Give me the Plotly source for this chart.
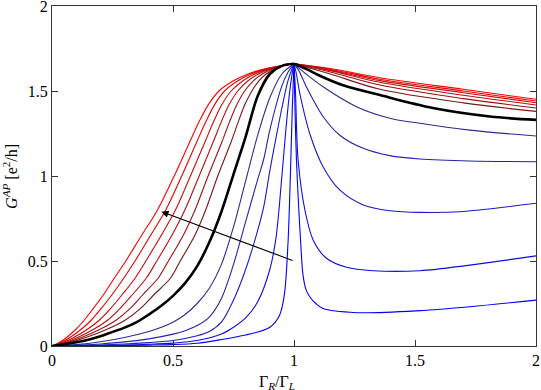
import plotly.graph_objects as go

# ---- black (reference) curve ----
black_left_x = [0, 0.05, 0.1, 0.15, 0.2, 0.25, 0.3, 0.35, 0.4, 0.45, 0.5, 0.55, 0.6, 0.65, 0.7,
                0.75, 0.8, 0.85, 0.9, 0.95, 1.0]
black_left_g = [0, 0.01, 0.022, 0.037, 0.057, 0.083, 0.108, 0.14, 0.185, 0.235, 0.295, 0.37, 0.47,
                0.61, 0.79, 1.01, 1.23, 1.47, 1.60, 1.648, 1.66]
black_right_x = [1.0, 1.05, 1.1, 1.2, 1.355, 1.574, 1.81, 2.0]
black_right_g = [1.66, 1.63, 1.594, 1.535, 1.476, 1.40, 1.35, 1.33]

# ---- red family (brightest first); left side read as x at fixed G levels ----
red_levels = [0, 0.02, 0.05, 0.1, 0.15, 0.22, 0.3, 0.4, 0.5, 0.65, 0.8, 1.0, 1.2, 1.32, 1.42,
              1.5, 1.56, 1.6, 1.63, 1.65, 1.66]
red1_left_x = [0, 0.030, 0.060, 0.100, 0.132, 0.170, 0.212, 0.258, 0.305, 0.370, 0.436, 0.505,
               0.569, 0.608, 0.646, 0.690, 0.750, 0.810, 0.880, 0.950, 1.0]
red2_left_x = [0, 0.037, 0.074, 0.122, 0.161, 0.203, 0.247, 0.297, 0.343, 0.407, 0.470, 0.536,
               0.598, 0.636, 0.672, 0.713, 0.768, 0.823, 0.887, 0.952, 1.0]
red3_left_x = [0, 0.045, 0.090, 0.148, 0.194, 0.242, 0.289, 0.344, 0.388, 0.451, 0.510, 0.572,
               0.632, 0.668, 0.702, 0.740, 0.789, 0.838, 0.895, 0.954, 1.0]
red4_left_x = [0, 0.053, 0.106, 0.174, 0.228, 0.281, 0.331, 0.390, 0.433, 0.495, 0.549, 0.608,
               0.666, 0.700, 0.732, 0.768, 0.810, 0.853, 0.903, 0.956, 1.0]
red5_left_x = [0, 0.061, 0.122, 0.201, 0.263, 0.322, 0.374, 0.439, 0.481, 0.542, 0.591, 0.645,
               0.702, 0.734, 0.764, 0.796, 0.832, 0.869, 0.911, 0.958, 1.0]
red6_left_x = [0, 0.070, 0.140, 0.230, 0.300, 0.365, 0.420, 0.490, 0.530, 0.590, 0.635, 0.685,
               0.740, 0.770, 0.797, 0.826, 0.855, 0.885, 0.920, 0.960, 1.0]
red_left_x = [red1_left_x, red2_left_x, red3_left_x, red4_left_x, red5_left_x, red6_left_x]

red_right_x = [1.0, 1.15, 1.355, 1.7, 2.0]
red_right_g = [
    [1.66, 1.632, 1.578, 1.510, 1.451],
    [1.66, 1.628, 1.569, 1.500, 1.441],
    [1.66, 1.624, 1.561, 1.490, 1.431],
    [1.66, 1.620, 1.551, 1.475, 1.418],
    [1.66, 1.612, 1.535, 1.455, 1.400],
    [1.66, 1.600, 1.510, 1.430, 1.380],
]
red_colors = ["#ff0000", "#ea0000", "#d00808", "#b50e0e", "#991212", "#7d1414"]

# ---- blue family (closest to black first) ----
blue1_left = ([0, 0.1, 0.2, 0.3, 0.4, 0.5, 0.55, 0.6, 0.65, 0.7, 0.75, 0.8, 0.85, 0.9, 0.95, 1.0],
              [0, 0.008, 0.025, 0.05, 0.085, 0.14, 0.185, 0.25, 0.34, 0.48, 0.70, 0.97, 1.24, 1.46, 1.60, 1.66])
blue2_left = ([0, 0.1, 0.2, 0.3, 0.4, 0.5, 0.55, 0.6, 0.65, 0.7, 0.75, 0.8, 0.85, 0.875, 0.9, 0.95, 0.975, 1.0],
              [0, 0.004, 0.012, 0.024, 0.042, 0.07, 0.09, 0.12, 0.17, 0.28, 0.48, 0.73, 0.98, 1.10, 1.27, 1.53, 1.61, 1.66])
blue3_left = ([0, 0.1, 0.2, 0.3, 0.4, 0.5, 0.6, 0.65, 0.7, 0.75, 0.8, 0.85, 0.875, 0.9, 0.925, 0.95, 0.975, 1.0],
              [0, 0.002, 0.006, 0.012, 0.02, 0.032, 0.06, 0.085, 0.14, 0.27, 0.45, 0.68, 0.82, 1.03, 1.22, 1.40, 1.56, 1.66])
blue4_left = ([0, 0.1, 0.2, 0.3, 0.4, 0.5, 0.6, 0.7, 0.75, 0.8, 0.85, 0.9, 0.925, 0.95, 0.965, 0.98, 0.99, 1.0],
              [0, 0.001, 0.003, 0.006, 0.01, 0.017, 0.032, 0.07, 0.11, 0.165, 0.26, 0.45, 0.63, 1.0, 1.25, 1.47, 1.58, 1.66])
blue5_left = ([0, 0.1, 0.2, 0.4, 0.5, 0.6, 0.7, 0.8, 0.85, 0.9, 0.94, 0.96, 0.975, 0.985, 0.993, 1.0],
              [0, 0.0005, 0.0015, 0.005, 0.008, 0.016, 0.038, 0.065, 0.082, 0.11, 0.18, 0.30, 0.60, 1.0, 1.40, 1.66])
blue_left = [blue1_left, blue2_left, blue3_left, blue4_left, blue5_left]

blue1_right = ([1.0, 1.05, 1.12, 1.258, 1.396, 1.52, 1.727, 2.0],
               [1.66, 1.60, 1.525, 1.408, 1.34, 1.31, 1.27, 1.235])
blue2_right = ([1.0, 1.02, 1.051, 1.12, 1.189, 1.286, 1.396, 1.52, 1.727, 2.0],
               [1.66, 1.62, 1.525, 1.35, 1.24, 1.163, 1.12, 1.10, 1.088, 1.084])
blue3_right = ([1.0, 1.01, 1.024, 1.065, 1.12, 1.189, 1.286, 1.396, 1.52, 1.685, 2.0],
               [1.66, 1.60, 1.486, 1.25, 1.055, 0.918, 0.83, 0.796, 0.786, 0.79, 0.84])
blue4_right = ([1.0, 1.006, 1.017, 1.045, 1.079, 1.134, 1.217, 1.327, 1.52, 1.727, 2.0],
               [1.66, 1.50, 1.094, 0.80, 0.624, 0.516, 0.463, 0.443, 0.443, 0.476, 0.53])
blue5_right = ([1.0, 1.004, 1.01, 1.02, 1.028, 1.037, 1.05, 1.065, 1.09, 1.12, 1.258, 1.52, 1.727, 2.0],
               [1.66, 1.40, 1.10, 0.80, 0.60, 0.42, 0.33, 0.29, 0.25, 0.22, 0.196, 0.208, 0.231, 0.27])
blue_right = [blue1_right, blue2_right, blue3_right, blue4_right, blue5_right]
blue_colors = ["#2c2c90", "#2424ac", "#1a1ac6", "#0d0de0", "#0000ff"]

# arrow: tail and head in data units
arrow_tail = (1.0, 0.5)
arrow_head = (0.452, 0.79)

SERIF = "Liberation Serif, Times New Roman, serif"

fig = go.Figure()


def add_curve(xs, ys, color, width):
    fig.add_trace(go.Scatter(
        x=xs, y=ys, mode="lines",
        line=dict(color=color, width=width, shape="spline", smoothing=0.9),
        showlegend=False, hoverinfo="skip",
    ))


for (xs, gs), col in zip(blue_left, blue_colors):
    add_curve(xs, gs, col, 1.1)
for (xs, gs), col in zip(blue_right, blue_colors):
    add_curve(xs, gs, col, 1.1)

for xs, col in zip(red_left_x, red_colors):
    add_curve(xs, red_levels, col, 1.1)
for gs, col in zip(red_right_g, red_colors):
    add_curve(red_right_x, gs, col, 1.1)

add_curve(black_left_x, black_left_g, "#000000", 2.6)
add_curve(black_right_x, black_right_g, "#000000", 2.6)

fig.add_annotation(
    x=arrow_head[0], y=arrow_head[1], ax=arrow_tail[0], ay=arrow_tail[1],
    xref="x", yref="y", axref="x", ayref="y",
    showarrow=True, arrowhead=2, arrowsize=1.3, arrowwidth=1.1, arrowcolor="#000000", text="",
)

# axis titles as annotations so they sit where the reference puts them
fig.add_annotation(
    x=0.465, y=-0.108, xref="paper", yref="paper", showarrow=False,
    text="Γ<sub><i>R</i></sub>/Γ<sub><i>L</i></sub>",
    font=dict(family=SERIF, size=16, color="#000"),
    xanchor="center", yanchor="middle",
)
fig.add_annotation(
    x=-0.087, y=0.5, xref="paper", yref="paper", showarrow=False, textangle=-90,
    text="<i>G<sup>AP</sup></i> [e<sup>2</sup>/h]",
    font=dict(family=SERIF, size=16, color="#000"),
    xanchor="center", yanchor="middle",
)

axis_style = dict(
    range=[0, 2], tickvals=[0, 0.5, 1, 1.5, 2], ticktext=["0", "0.5", "1", "1.5", "2"],
    ticks="inside", ticklen=6, tickwidth=1, tickcolor="#333",
    showline=True, linecolor="#333", linewidth=1.3, mirror="allticks",
    showgrid=False, zeroline=False, automargin=False, ticklabeloverflow="allow",
    tickfont=dict(family=SERIF, size=16, color="#000"),
)

fig.update_layout(
    width=541, height=390,
    margin=dict(l=52, r=5, t=6, b=44),
    paper_bgcolor="white", plot_bgcolor="white",
    xaxis=dict(**axis_style),
    yaxis=dict(**axis_style),
)

# the page's default body margin would push the figure 8px right and down
fig.write_html("out.html", config={"displayModeBar": False},
               post_script="document.body.style.margin = '0px';")
